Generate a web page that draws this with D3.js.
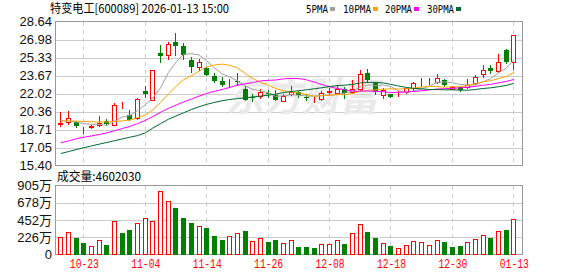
<!DOCTYPE html>
<html>
<head>
<meta charset="utf-8">
<script src="https://cdn.jsdelivr.net/npm/d3@7"></script>
<style>
  html, body { margin: 0; padding: 0; background: #fff; }
  svg { display: block; }
</style>
</head>
<body>
<script>
var width = 578
var height = 276

// trading days shown on the chart
var dates = ['10-20','10-21','10-22','10-23','10-24','10-27','10-28','10-29','10-30','10-31',
  '11-03','11-04','11-05','11-06','11-07','11-10','11-11','11-12','11-13','11-14',
  '11-17','11-18','11-19','11-20','11-21','11-24','11-25','11-26','11-27','11-28',
  '12-01','12-02','12-03','12-04','12-05','12-08','12-09','12-10','12-11','12-12',
  '12-15','12-16','12-17','12-18','12-19','12-22','12-23','12-24','12-25','12-26',
  '12-29','12-30','12-31','01-05','01-06','01-07','01-08','01-09','01-12','01-13']

var open = [19.25,19.40,19.40,18.78,18.98,19.15,19.45,19.16,20.75,20.02,
  19.80,22.25,21.46,25.70,25.60,26.80,26.35,25.13,24.48,24.33,
  23.66,23.16,22.98,23.15,22.40,21.70,21.79,22.03,21.88,21.33,
  21.94,22.19,21.66,21.38,21.51,22.20,22.10,22.46,22.15,22.46,
  23.93,22.98,21.85,21.94,21.84,22.12,22.56,23.05,23.08,23.07,
  23.29,22.47,22.60,22.61,22.98,23.84,24.33,24.08,25.98,24.91]
var high = [20.28,20.40,19.45,18.92,19.08,19.92,19.70,21.14,21.28,20.50,
  21.60,22.68,24.20,26.50,26.80,27.56,26.65,25.40,25.22,24.45,
  23.90,23.53,23.35,23.93,22.68,21.94,22.46,22.30,22.30,21.94,
  22.68,22.25,21.98,21.66,22.25,22.49,22.83,22.60,23.23,24.14,
  24.30,23.10,22.49,21.97,22.22,22.52,23.05,23.41,23.48,23.78,
  23.35,22.72,22.65,23.32,23.69,24.60,24.60,25.61,26.10,27.42]
var low = [19.00,19.25,18.95,18.40,18.85,19.05,19.15,19.10,20.72,19.55,
  19.72,21.72,21.40,24.90,25.20,25.58,25.22,24.00,24.14,23.68,
  23.07,22.68,22.62,22.77,21.42,21.33,21.60,21.72,21.42,21.30,
  21.85,21.66,21.42,21.24,21.45,21.94,22.04,21.64,22.10,22.30,
  23.10,22.00,21.64,21.66,21.82,22.06,22.25,22.74,22.86,23.03,
  22.68,22.43,22.28,22.55,22.93,23.50,23.88,23.97,24.80,24.24]
var close = [19.30,19.77,19.03,18.80,19.00,19.35,19.25,20.93,20.78,19.62,
  21.55,21.97,24.14,25.47,26.53,26.37,25.58,24.45,24.94,23.75,
  23.20,22.80,23.02,23.11,21.46,21.68,22.15,21.98,21.46,21.79,
  22.19,21.90,21.62,21.41,22.03,22.24,22.46,22.10,22.40,23.84,
  23.29,22.15,22.31,21.69,21.86,22.49,23.01,23.09,23.12,23.48,
  22.77,22.60,22.32,22.83,23.53,24.21,24.08,24.94,24.91,27.42]

// volume in 万 shares
var volume = [224,294,215,149,118,189,123,439,281,321,
  408,474,439,830,699,610,479,413,369,347,
  241,189,237,277,307,175,211,167,189,147,
  184,96,96,83,136,136,184,136,277,395,
  294,211,145,105,79,131,171,162,131,184,
  162,96,105,162,197,250,215,303,321,460]

var ma5 = [19.50,19.50,19.40,19.25,19.18,19.19,19.09,19.47,19.86,19.99,
  20.43,20.97,21.61,22.55,23.93,24.90,25.62,25.68,25.57,25.02,
  24.38,23.83,23.54,23.18,22.72,22.41,22.28,22.08,21.75,21.81,
  21.91,21.86,21.79,21.78,21.83,21.84,21.95,22.05,22.25,22.61,
  22.82,22.76,22.80,22.66,22.26,22.10,22.27,22.43,22.71,23.04,
  23.09,23.01,22.86,22.80,22.81,23.10,23.39,23.92,24.33,25.11]
var ma10 = [19.50,19.50,19.48,19.45,19.42,19.40,19.40,19.45,19.50,19.58,
  19.81,20.03,20.54,21.21,21.96,22.66,23.29,23.65,24.06,24.48,
  24.64,24.72,24.61,24.38,23.87,23.40,23.06,22.81,22.46,22.27,
  22.16,22.07,21.93,21.76,21.82,21.88,21.91,21.92,22.01,22.22,
  22.33,22.35,22.42,22.45,22.43,22.46,22.51,22.61,22.69,22.65,
  22.60,22.64,22.64,22.76,22.92,23.10,23.20,23.39,23.57,23.96]
var ma20 = [17.50,17.65,17.85,18.00,18.12,18.25,18.40,18.60,18.80,19.00,
  19.25,19.55,19.90,20.30,20.65,20.95,21.25,21.50,21.78,22.03,
  22.22,22.38,22.58,22.79,22.91,23.03,23.18,23.23,23.26,23.37,
  23.40,23.40,23.27,23.07,22.84,22.64,22.48,22.36,22.24,22.24,
  22.25,22.21,22.18,22.11,22.13,22.17,22.21,22.27,22.35,22.43,
  22.46,22.50,22.53,22.60,22.68,22.78,22.86,23.00,23.13,23.31]
var ma30 = [16.50,16.68,16.86,17.04,17.20,17.36,17.52,17.68,17.84,18.00,
  18.15,18.40,18.85,19.25,19.65,19.95,20.25,20.55,20.80,21.02,
  21.20,21.35,21.47,21.55,21.62,21.70,21.78,21.86,21.96,22.11,
  22.20,22.28,22.36,22.45,22.55,22.65,22.75,22.79,22.85,22.99,
  23.04,23.05,22.99,22.86,22.71,22.58,22.49,22.45,22.39,22.38,
  22.36,22.36,22.33,22.32,22.39,22.48,22.54,22.64,22.76,22.94]

var priceTicks = ['15.40','17.05','18.71','20.36','22.02','23.67','25.33','26.98','28.64']
var volTicks = [0, 226.25, 452.5, 678.75, 905]
var dateTicks = ['10-23','11-04','11-14','11-26','12-08','12-18','12-30','01-13']

var maNames = ['5PMA','10PMA','20PMA','30PMA']
var maColors = ['#a0a0a0','#ffa500','#ff00ff','#006a30']

var RED = '#ff0000'
var GREEN = '#008000'
var left = 55.5, right = 522.5
var pTop = 21.5, pBottom = 165.5, vTop = 185.5, vBottom = 254.5

var svg = d3.select('body').append('svg').attr('width', width).attr('height', height)

var x = d3.scalePoint().domain(dates).range([60.3, 513.3])
var yP = d3.scaleLinear().domain([15.40, 28.64]).range([pBottom, pTop])
var yV = d3.scaleLinear().domain([0, 905]).range([vBottom, vTop])
var cx = d => Math.round(x(d))

// grid
var grid = svg.append('g').attr('shape-rendering', 'crispEdges')
grid.selectAll('line.hp').data(priceTicks.slice(1, -1)).enter().append('line')
  .attr('x1', left).attr('x2', right)
  .attr('y1', d => Math.round(yP(+d)) + 0.5).attr('y2', d => Math.round(yP(+d)) + 0.5)
  .attr('stroke', '#cccccc')
grid.selectAll('line.hv').data(volTicks.slice(1, -1)).enter().append('line')
  .attr('x1', left).attr('x2', right)
  .attr('y1', d => Math.round(yV(d)) + 0.5).attr('y2', d => Math.round(yV(d)) + 0.5)
  .attr('stroke', '#cccccc')
;[[pTop, pBottom], [vTop, vBottom]].forEach(r => {
  grid.selectAll(null).data(dateTicks).enter().append('line')
    .attr('x1', d => cx(d) + 0.5).attr('x2', d => cx(d) + 0.5)
    .attr('y1', r[0]).attr('y2', r[1])
    .attr('stroke', '#cccccc').attr('stroke-dasharray', '4,4')
})

// watermark
svg.append('text').attr('x', 226).attr('y', 111).text('东方财富')
  .attr('font-family', 'Noto Sans CJK SC').attr('font-weight', 'bold').attr('font-size', 40)
  .attr('textLength', 152).attr('lengthAdjust', 'spacingAndGlyphs')
  .attr('fill', '#eaeaea').attr('font-style', 'italic')

// borders
grid.append('rect').attr('x', left).attr('y', pTop).attr('width', right - left).attr('height', pBottom - pTop)
  .attr('fill', 'none').attr('stroke', '#999999')
grid.append('rect').attr('x', left).attr('y', vTop).attr('width', right - left).attr('height', vBottom - vTop)
  .attr('fill', 'none').attr('stroke', '#999999')

// candles
var up = dates.map((d, i) => close[i] >= open[i])
var k = svg.append('g').attr('shape-rendering', 'crispEdges')
k.selectAll('line.wick').data(dates).enter().append('line')
  .attr('x1', d => cx(d) + 0.5).attr('x2', d => cx(d) + 0.5)
  .attr('y1', (d, i) => Math.round(yP(high[i]))).attr('y2', (d, i) => Math.round(yP(low[i])) + 1)
  .attr('stroke', (d, i) => up[i] ? RED : GREEN)
k.selectAll('rect.body').data(dates).enter().append('rect')
  .attr('x', (d, i) => up[i] ? cx(d) - 1.5 : cx(d) - 2)
  .attr('width', (d, i) => up[i] ? 4 : 5)
  .attr('y', (d, i) => Math.round(yP(Math.max(open[i], close[i]))) + (up[i] ? 0.5 : 0))
  .attr('height', (d, i) => Math.max(up[i] ? 0 : 1, Math.round(yP(Math.min(open[i], close[i]))) - Math.round(yP(Math.max(open[i], close[i])))))
  .attr('fill', (d, i) => up[i] ? '#ffffff' : GREEN)
  .attr('stroke', (d, i) => up[i] ? RED : 'none')

// moving averages
var mas = [ma5, ma10, ma20, ma30]
mas.forEach((m, j) => {
  svg.append('path').datum(m)
    .attr('d', d3.line().x((d, i) => x(dates[i]) + 0.5).y(d => yP(d)))
    .attr('fill', 'none').attr('stroke', maColors[j]).attr('stroke-width', 1)
})

// volume bars, coloured by change from previous close
var vUp = dates.map((d, i) => i == 0 ? close[i] >= open[i] : close[i] >= close[i - 1])
svg.append('g').attr('shape-rendering', 'crispEdges')
  .selectAll('rect').data(dates).enter().append('rect')
  .attr('x', (d, i) => vUp[i] ? cx(d) - 1.5 : cx(d) - 2)
  .attr('width', (d, i) => vUp[i] ? 4 : 5)
  .attr('y', (d, i) => Math.round(yV(volume[i])) + (vUp[i] ? 0.5 : 0))
  .attr('height', (d, i) => vBottom - Math.round(yV(volume[i])) - (vUp[i] ? 1 : 0))
  .attr('fill', (d, i) => vUp[i] ? '#ffffff' : GREEN)
  .attr('stroke', (d, i) => vUp[i] ? RED : 'none')

// axis labels
var yAxis = d3.axisLeft(yP).tickValues(priceTicks.map(Number)).tickFormat((d, i) => priceTicks[i]).tickSize(0).tickPadding(3)
var ga = svg.append('g').attr('transform', `translate(${left - 0.5},0)`).call(yAxis)
ga.select('.domain').remove()
ga.selectAll('text').attr('font-family', 'Liberation Sans, Arial').attr('font-size', 13).attr('fill', '#111')

var vAxis = d3.axisLeft(yV).tickValues(volTicks).tickFormat(d => d == 0 ? '0' : Math.floor(d) + '万').tickSize(0).tickPadding(3)
var gv = svg.append('g').attr('transform', `translate(${left - 0.5},0)`).call(vAxis)
gv.select('.domain').remove()
gv.selectAll('text').attr('font-family', 'Liberation Sans, Noto Sans CJK SC').attr('font-size', 13).attr('fill', '#111')

var xAxis = d3.axisBottom(x).tickValues(dateTicks).tickSize(0).tickPadding(0)
var gx = svg.append('g').attr('transform', `translate(0.5,${vBottom + 5})`).call(xAxis)
gx.select('.domain').remove()
gx.selectAll('text').attr('font-family', 'Liberation Mono, monospace').attr('font-size', 12).attr('fill', RED)
  .attr('textLength', 29).attr('lengthAdjust', 'spacingAndGlyphs')

// title and legend
svg.append('text').attr('x', 50).attr('y', 13).text('特变电工[600089] 2026-01-13 15:00')
  .attr('font-family', 'Noto Sans CJK SC').attr('font-size', 12).attr('fill', '#000')
  .attr('textLength', 179).attr('lengthAdjust', 'spacingAndGlyphs')
var legX = [306, 343, 385, 427]
var legW = [22, 28, 27, 27]
maNames.forEach((n, j) => {
  svg.append('text').attr('x', legX[j]).attr('y', 13).text(n)
    .attr('font-family', 'DejaVu Sans Mono, monospace').attr('font-size', 11).attr('fill', '#000')
    .attr('textLength', legW[j]).attr('lengthAdjust', 'spacingAndGlyphs')
  svg.append('rect').attr('x', legX[j] + legW[j] + 2).attr('y', 7).attr('width', 5).attr('height', 4)
    .attr('fill', maColors[j])
})

svg.append('text').attr('x', 57).attr('y', 181).text('成交量:4602030')
  .attr('font-family', 'Noto Sans CJK SC').attr('font-size', 12).attr('fill', '#000')
  .attr('textLength', 84).attr('lengthAdjust', 'spacingAndGlyphs')
</script>
</body>
</html>
